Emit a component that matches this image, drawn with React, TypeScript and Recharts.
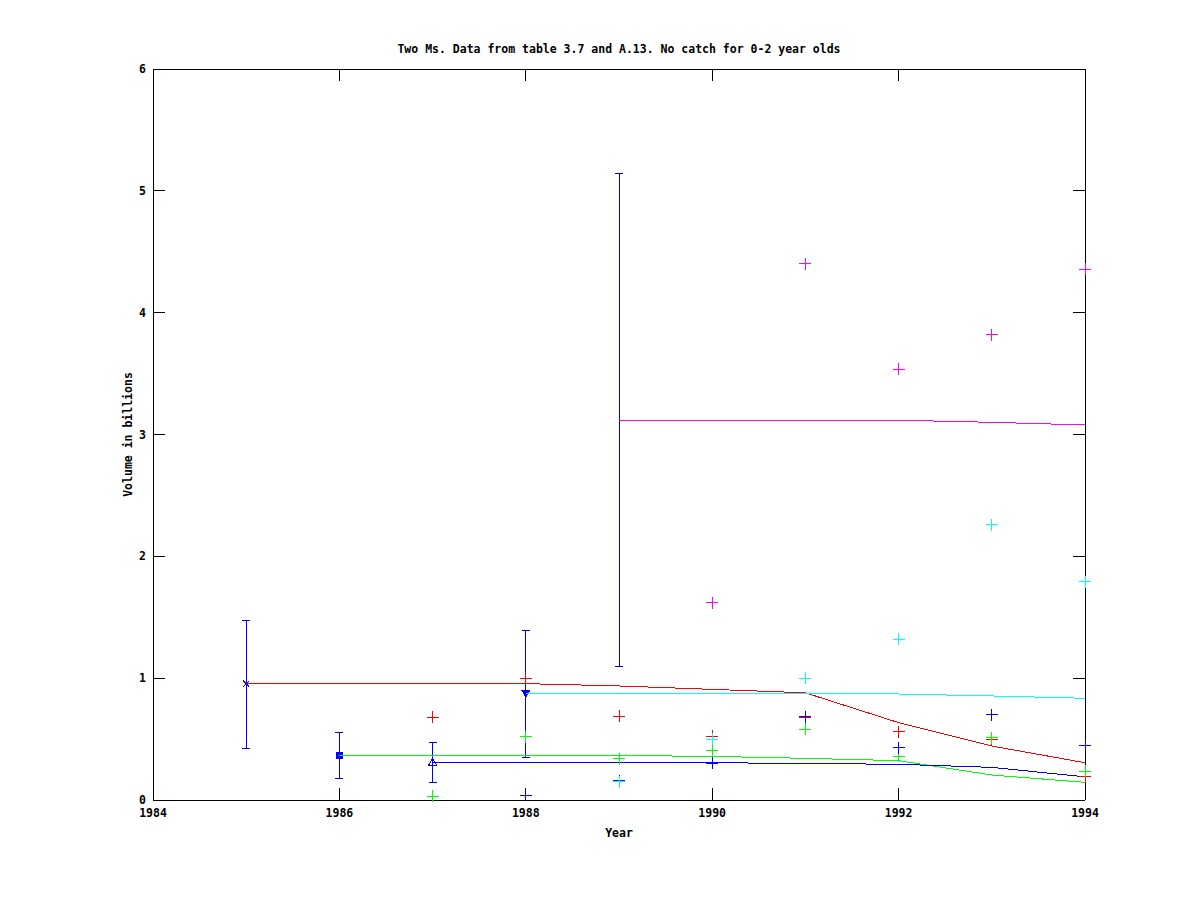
import React from "react";
import { ComposedChart, Scatter, XAxis, YAxis, ErrorBar } from "recharts";

const title = "Two Ms. Data from table 3.7 and A.13. No catch for 0-2 year olds";
const xTicks = [1984, 1986, 1988, 1990, 1992, 1994];
const yTicks = [0, 1, 2, 3, 4, 5, 6];

// survey points (crosses), one array per year class
const redYears = [1987, 1988, 1989, 1990, 1991, 1992, 1993, 1994];
const redPts = [0.68, 1.0, 0.687, 0.525, 0.68, 0.56, 0.5, 0.19];
const greenYears = [1987, 1988, 1989, 1990, 1991, 1992, 1993, 1994];
const greenPts = [0.03, 0.52, 0.34, 0.41, 0.58, 0.36, 0.51, 0.235];
const blueYears = [1988, 1989, 1990, 1991, 1992, 1993, 1994];
const bluePts = [0.04, 0.16, 0.3, 0.685, 0.43, 0.7, 0.45];
const cyanYears = [1989, 1990, 1991, 1992, 1993, 1994];
const cyanPts = [0.148, 0.5, 1.0, 1.32, 2.26, 1.79];
const magentaYears = [1990, 1991, 1992, 1993, 1994];
const magentaPts = [1.62, 4.4, 3.535, 3.82, 4.356];

// fitted lines
const redFitYears = [1985, 1986, 1987, 1988, 1989, 1990, 1991, 1992, 1993, 1994];
const redFit = [0.955, 0.955, 0.955, 0.955, 0.936, 0.908, 0.88, 0.635, 0.443, 0.306];
const greenFitYears = [1986, 1987, 1988, 1989, 1990, 1991, 1992, 1993, 1994];
const greenFit = [0.367, 0.367, 0.367, 0.365, 0.358, 0.342, 0.323, 0.205, 0.145];
const blueFitYears = [1987, 1988, 1989, 1990, 1991, 1992, 1993, 1994];
const blueFit = [0.31, 0.31, 0.308, 0.306, 0.3, 0.293, 0.268, 0.19];
const cyanFitYears = [1988, 1989, 1990, 1991, 1992, 1993, 1994];
const cyanFit = [0.878, 0.877, 0.876, 0.874, 0.87, 0.854, 0.835];
const magentaFitYears = [1989, 1990, 1991, 1992, 1993, 1994];
const magentaFit = [3.119, 3.119, 3.118, 3.117, 3.1, 3.078];

// recruitment estimates with error bars
const estYears = [1985, 1986, 1987, 1988, 1989];
const estValues = [0.955, 0.367, 0.31, 0.877, 3.119];
const estLow = [0.42, 0.178, 0.145, 0.35, 1.092];
const estHigh = [1.475, 0.556, 0.474, 1.393, 5.14];

const FONT = "'DejaVu Sans Mono', monospace";
const textStyle = { fill: "#000", fontSize: 11.5, fontFamily: FONT, fontWeight: "bold" as const };

const pts = (xs: number[], ys: number[]) => xs.map((x, i) => ({ x, y: ys[i] }));
const estData = estYears.map((x, i) => ({
  x,
  y: estValues[i],
  err: [estValues[i] - estLow[i], estHigh[i] - estValues[i]],
}));

const none = () => <g />;

const cross = (color: string) => (p: any) => {
  if (p.cx == null || p.cy == null) return <g />;
  const { cx, cy } = p;
  return (
    <path
      d={`M${cx - 6},${cy}H${cx + 6}M${cx},${cy - 6}V${cy + 6}`}
      stroke={color}
      strokeWidth={1}
      fill="none"
    />
  );
};

const markerTypes = ["x", "square", "triangle", "down", ""];
const estMarker = (p: any) => {
  if (p.cx == null || p.cy == null) return <g />;
  const { cx, cy } = p;
  const t = markerTypes[estYears.indexOf(p.payload?.x)];
  const c = "#0000ff";
  if (t === "x")
    return <path d={`M${cx - 3},${cy - 3}L${cx + 3},${cy + 3}M${cx - 3},${cy + 3}L${cx + 3},${cy - 3}`} stroke={c} fill="none" />;
  if (t === "square") return <rect x={cx - 3.5} y={cy - 3.5} width={7} height={7} fill={c} />;
  if (t === "triangle")
    return <path d={`M${cx},${cy - 4}L${cx + 4},${cy + 3}L${cx - 4},${cy + 3}Z`} stroke={c} fill="none" />;
  if (t === "down") return <path d={`M${cx - 4},${cy - 3}L${cx + 4},${cy - 3}L${cx},${cy + 4}Z`} stroke={c} fill={c} />;
  return <g />;
};

const fitLine = (color: string) => ({ stroke: color, strokeWidth: 1, fill: "none" });

export default function App() {
  return (
    <div style={{ position: "absolute", left: 0, top: 0, width: 1200, height: 900, background: "#fff" }}>
      <ComposedChart
        width={1200}
        height={900}
        margin={{ top: 59, right: 105, bottom: 70, left: 93 }}
        style={{ shapeRendering: "crispEdges" }}
      >
        <XAxis
          dataKey="x"
          type="number"
          domain={[1984, 1994]}
          ticks={xTicks}
          interval={0}
          height={30}
          tickSize={-12}
          tickMargin={21}
          axisLine={{ stroke: "#000" }}
          tickLine={{ stroke: "#000" }}
          tick={textStyle}
          label={{
            content: (p: any) => (
              <text x={p.viewBox.x + p.viewBox.width / 2} y={p.viewBox.y + 33} textAnchor="middle" dominantBaseline="central" style={textStyle}>
                Year
              </text>
            ),
          }}
        />
        <XAxis
          xAxisId="top"
          orientation="top"
          dataKey="x"
          type="number"
          domain={[1984, 1994]}
          ticks={xTicks}
          interval={0}
          height={10}
          tickSize={-12}
          tickFormatter={() => ""}
          axisLine={{ stroke: "#000" }}
          tickLine={{ stroke: "#000" }}
          label={{
            content: (p: any) => (
              <text x={p.viewBox.x + p.viewBox.width / 2} y={p.viewBox.y - 10} textAnchor="middle" dominantBaseline="central" style={textStyle}>
                {title}
              </text>
            ),
          }}
        />
        <YAxis
          dataKey="y"
          type="number"
          domain={[0, 6]}
          ticks={yTicks}
          interval={0}
          width={60}
          tickSize={-12}
          tickMargin={19}
          axisLine={{ stroke: "#000" }}
          tickLine={{ stroke: "#000" }}
          tick={textStyle}
          label={{
            content: (p: any) => {
              const x = p.viewBox.x + 35;
              const y = p.viewBox.y + p.viewBox.height / 2;
              return (
                <text x={x} y={y} transform={`rotate(-90 ${x} ${y})`} textAnchor="middle" dominantBaseline="central" style={textStyle}>
                  Volume in billions
                </text>
              );
            },
          }}
        />
        <YAxis
          yAxisId="right"
          orientation="right"
          dataKey="y"
          type="number"
          domain={[0, 6]}
          ticks={yTicks}
          interval={0}
          width={10}
          tickSize={-12}
          tickFormatter={() => ""}
          axisLine={{ stroke: "#000" }}
          tickLine={{ stroke: "#000" }}
        />

        <Scatter xAxisId="top" yAxisId="right" data={pts(redYears, redPts)} shape={none} isAnimationActive={false} />

        <Scatter data={estData} shape={estMarker} isAnimationActive={false}>
          <ErrorBar dataKey="err" direction="y" width={4} stroke="#0000ff" strokeWidth={1} isAnimationActive={false} />
        </Scatter>

        <Scatter data={pts(redFitYears, redFit)} line={fitLine("#ff0000")} lineType="joint" shape={none} isAnimationActive={false} />
        <Scatter data={pts(greenFitYears, greenFit)} line={fitLine("#00ff00")} lineType="joint" shape={none} isAnimationActive={false} />
        <Scatter data={pts(blueFitYears, blueFit)} line={fitLine("#0000ff")} lineType="joint" shape={none} isAnimationActive={false} />
        <Scatter data={pts(magentaFitYears, magentaFit)} line={fitLine("#ff00ff")} lineType="joint" shape={none} isAnimationActive={false} />
        <Scatter data={pts(cyanFitYears, cyanFit)} line={fitLine("#00ffff")} lineType="joint" shape={none} isAnimationActive={false} />

        <Scatter data={pts(redYears, redPts)} shape={cross("#ff0000")} isAnimationActive={false} />
        <Scatter data={pts(greenYears, greenPts)} shape={cross("#00ff00")} isAnimationActive={false} />
        <Scatter data={pts(blueYears, bluePts)} shape={cross("#0000ff")} isAnimationActive={false} />
        <Scatter data={pts(cyanYears, cyanPts)} shape={cross("#00ffff")} isAnimationActive={false} />
        <Scatter data={pts(magentaYears, magentaPts)} shape={cross("#ff00ff")} isAnimationActive={false} />
      </ComposedChart>
    </div>
  );
}
